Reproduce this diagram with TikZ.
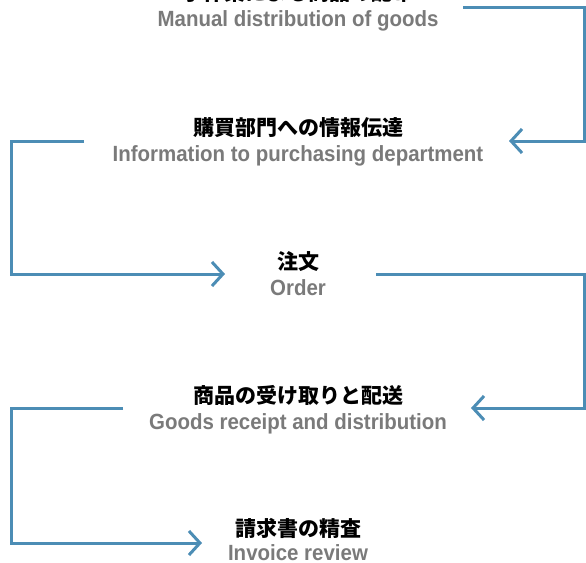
\documentclass[tikz,border=0pt]{standalone}
\usepackage{fontspec}
\setmainfont{Liberation Sans}
\newfontfamily\enfont[FakeStretch=0.93]{Liberation Sans}
\newfontfamily\jpfont{Noto Sans CJK JP}
\usetikzlibrary{arrows.meta}
\definecolor{flowblue}{RGB}{76,141,181}
\definecolor{engray}{RGB}{122,122,122}
\tikzset{
  flow/.style={draw=flowblue, line width=3pt, line join=miter,
    -{Straight Barb[length=11pt,width=24pt]}},
  jp/.style={font=\jpfont\bfseries\fontsize{21}{21}\selectfont, text=black, inner sep=0pt, anchor=base},
  en/.style={font=\enfont\bfseries\fontsize{22}{22}\selectfont, text=engray, inner sep=0pt, anchor=base},
}
\begin{document}
\begin{tikzpicture}[x=1pt,y=-1pt]
\useasboundingbox (0,0) rectangle (586,562);
% right and left rails
\coordinate (r) at (584,0);
\coordinate (l) at (11,0);
% step texts
\node[jp] (j0) at (298,1) {手作業による商品の配布};
\node[en] (e0) at (298,27) {Manual distribution of goods};
\node[jp] (j1) at (298,135) {購買部門への情報伝達};
\node[en] (e1) at (298,161) {Information to purchasing department};
\node[jp] (j2) at (298,269) {注文};
\node[en] (e2) at (298,295) {Order};
\node[jp] (j3) at (298,403) {商品の受け取りと配送};
\node[en] (e3) at (298,429) {Goods receipt and distribution};
\node[jp] (j4) at (298,536) {請求書の精査};
\node[en] (e4) at (298,560) {Invoice review};
% connector ends
\coordinate (s1) at (463,7);
\coordinate (t1) at (509,141);
\coordinate (s2) at (84,141);
\coordinate (t2) at (225,274);
\coordinate (s3) at (376,274);
\coordinate (t3) at (471,408);
\coordinate (s4) at (123,408);
\coordinate (t4) at (202,543);
% connectors
\draw[flow] (s1) -- (s1 -| r) |- (t1);
\draw[flow] (s2) -- (s2 -| l) |- (t2);
\draw[flow] (s3) -- (s3 -| r) |- (t3);
\draw[flow] (s4) -- (s4 -| l) |- (t4);
\end{tikzpicture}
\end{document}
